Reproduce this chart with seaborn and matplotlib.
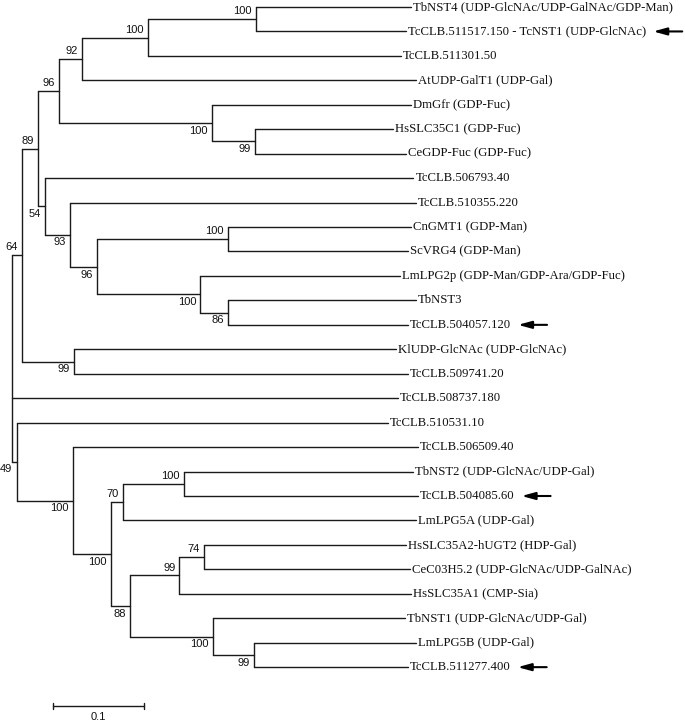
import matplotlib
matplotlib.use("Agg")
import matplotlib.pyplot as plt
import pandas as pd
import numpy as np
import seaborn as sns

# leaves, top to bottom, with tip depth (substitutions/site) and parent node
leaves = ["TbNST4 (UDP-GlcNAc/UDP-GalNAc/GDP-Man)",
          "TcCLB.511517.150 - TcNST1 (UDP-GlcNAc)",
          "TcCLB.511301.50",
          "AtUDP-GalT1 (UDP-Gal)",
          "DmGfr (GDP-Fuc)",
          "HsSLC35C1 (GDP-Fuc)",
          "CeGDP-Fuc (GDP-Fuc)",
          "TcCLB.506793.40",
          "TcCLB.510355.220",
          "CnGMT1 (GDP-Man)",
          "ScVRG4 (GDP-Man)",
          "LmLPG2p (GDP-Man/GDP-Ara/GDP-Fuc)",
          "TbNST3",
          "TcCLB.504057.120",
          "KlUDP-GlcNAc (UDP-GlcNAc)",
          "TcCLB.509741.20",
          "TcCLB.508737.180",
          "TcCLB.510531.10",
          "TcCLB.506509.40",
          "TbNST2 (UDP-GlcNAc/UDP-Gal)",
          "TcCLB.504085.60",
          "LmLPG5A (UDP-Gal)",
          "HsSLC35A2-hUGT2 (HDP-Gal)",
          "CeC03H5.2 (UDP-GlcNAc/UDP-GalNAc)",
          "HsSLC35A1 (CMP-Sia)",
          "TbNST1 (UDP-GlcNAc/UDP-Gal)",
          "LmLPG5B (UDP-Gal)",
          "TcCLB.511277.400"]
tip_depth = [0.438, 0.433, 0.427, 0.444, 0.438, 0.419, 0.433, 0.441, 0.444, 0.438,
             0.435, 0.426, 0.444, 0.435, 0.422, 0.435, 0.424, 0.413, 0.446, 0.441,
             0.446, 0.444, 0.433, 0.437, 0.438, 0.432, 0.444, 0.435]
tip_parent = ["A", "A", "B", "C", "E", "F", "F", "H", "I", "K", "K", "L", "M", "M",
              "O", "O", "root", "Q", "R", "V", "V", "T", "Y", "Y", "W", "X", "Z", "Z"]
arrow_leaves = [1, 13, 20, 27]

# internal nodes
node_ids = ["root", "N", "G", "D", "C", "B", "A", "E", "F", "H", "I", "J", "K",
            "L", "M", "O", "Q", "R", "S", "T", "V", "U", "W", "Y", "X", "Z"]
node_parent = [None, "root", "N", "G", "D", "C", "B", "D", "E", "G", "H", "I", "J",
               "J", "L", "N", "root", "Q", "R", "S", "T", "S", "U", "W", "U", "X"]
node_depth = [0.000, 0.011, 0.029, 0.052, 0.077, 0.149, 0.268, 0.220, 0.267, 0.036,
              0.064, 0.093, 0.237, 0.207, 0.237, 0.068, 0.005, 0.067, 0.109, 0.122,
              0.189, 0.130, 0.184, 0.211, 0.221, 0.266]
node_support = [None, 64, 89, 96, 92, 100, 100, 100, 99, 54, 93, 96, 100,
                100, 86, 99, 49, 100, 100, 70, 100, 88, 99, 74, 100, 99]

scale_len = 0.1

# ---- layout ----
depth = dict(zip(node_ids, node_depth))
children = {n: [] for n in node_ids}
ypos = {}
for i, p in enumerate(tip_parent):
    children[p].append(("t", i))
    ypos[("t", i)] = float(i)
for n, p in zip(node_ids, node_parent):
    if p is not None:
        children[p].append(("n", n))

def node_y(n):
    ys = []
    for c in children[n]:
        if c[0] == "n":
            ys.append(node_y(c[1]))
        else:
            ys.append(ypos[c])
    ypos[("n", n)] = (min(ys) + max(ys)) / 2
    return ypos[("n", n)]

node_y("root")

segs = []
k = 0
for n in node_ids:
    cy = [ypos[c] for c in children[n]]
    segs += [(k, depth[n], min(cy)), (k, depth[n], max(cy))]
    k += 1
    for c in children[n]:
        x1 = depth[c[1]] if c[0] == "n" else tip_depth[c[1]]
        segs += [(k, depth[n], ypos[c]), (k, x1, ypos[c])]
        k += 1
segDF = pd.DataFrame(segs, columns=["seg", "x", "y"])

sns.set_style("white")
fig = plt.figure(figsize=(6.85, 7.21), dpi=100)
ax = fig.add_axes([0, 0, 1, 1])

sns.lineplot(data=segDF, x="x", y="y", units="seg", estimator=None, sort=False,
             color="#1a1a1a", linewidth=1.0, ax=ax, legend=False)

px = 910.0   # pixels per unit distance
row = 24.45  # pixels per leaf row
ax.set_xlim(-12 / px, (685 - 12) / px)
ax.set_ylim((721 - 7) / row, -7 / row)
ax.axis("off")

serif = ["Liberation Serif", "DejaVu Serif"]
sans = ["Liberation Sans", "DejaVu Sans"]

labels = []
for i, name in enumerate(leaves):
    t = ax.annotate(name, (tip_depth[i], i), xytext=(1.5, 0), textcoords="offset points",
                    ha="left", va="center", fontsize=9.2, family=serif, color="#111")
    labels.append(t)

for n, s in zip(node_ids, node_support):
    if s is None:
        continue
    p = node_parent[node_ids.index(n)]
    cy = [ypos[c] for c in children[p]]
    y = ypos[("n", n)]
    if y == min(cy):
        ax.annotate(str(s), (depth[n], y), xytext=(-3, 2), textcoords="offset points",
                    ha="right", va="bottom", fontsize=8, family=sans, color="#111")
    else:
        ax.annotate(str(s), (depth[n], y), xytext=(-3, -2), textcoords="offset points",
                    ha="right", va="top", fontsize=8, family=sans, color="#111")

# arrows after highlighted labels
fig.canvas.draw()
r = fig.canvas.get_renderer()
inv = ax.transData.inverted()
for i in arrow_leaves:
    bb = labels[i].get_window_extent(r)
    x0 = inv.transform((bb.x1 + 7, 0))[0]
    x1 = inv.transform((bb.x1 + 36, 0))[0]
    ax.annotate("", xy=(x0, i), xytext=(x1, i),
                arrowprops=dict(arrowstyle="-|>,head_length=0.8,head_width=0.22",
                                color="black", lw=1.5, shrinkA=0, shrinkB=0))

# scale bar
sx = (53 - 12) / px
sy = (706 - 7) / row
ax.plot([sx, sx + scale_len], [sy, sy], color="#1a1a1a", lw=1.0)
for xx in (sx, sx + scale_len):
    ax.plot([xx, xx], [sy - 0.12, sy + 0.12], color="#1a1a1a", lw=1.0)
ax.annotate(str(scale_len), (sx + scale_len / 2, sy), xytext=(0, -4), textcoords="offset points",
            ha="center", va="top", fontsize=8, family=sans, color="#111")

fig.savefig("out.png", dpi=100, facecolor="white")
